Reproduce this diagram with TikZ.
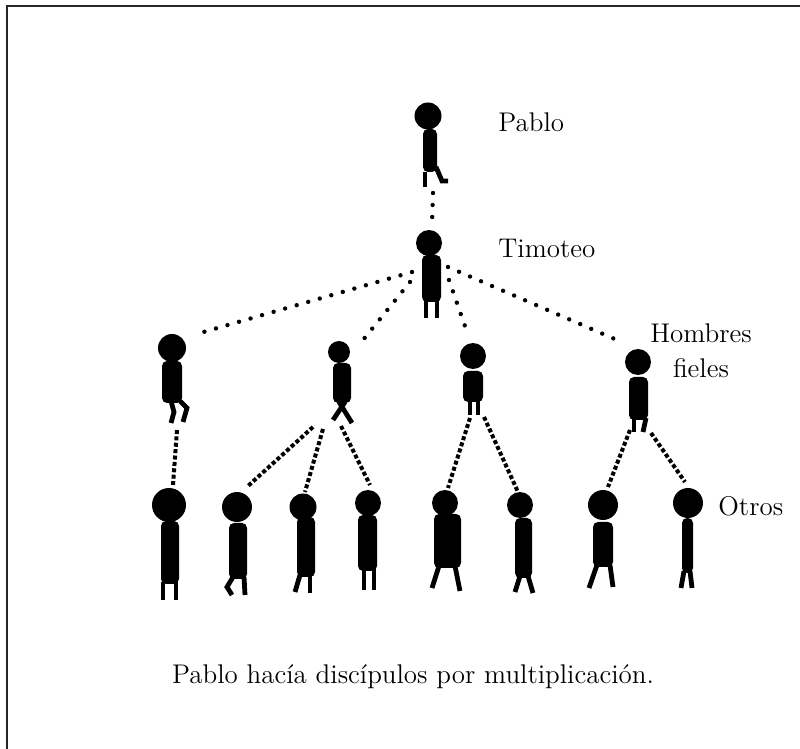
\documentclass[tikz,border=0pt]{standalone}
\begin{document}
\begin{tikzpicture}[x=0.5pt,y=-0.5pt,
    cabeza/.style={circle, fill=black, inner sep=0pt},
    cuerpo/.style={fill=black, rounded corners=2.5pt},
    pierna/.style={black, line width=2.4pt},
    puntos/.style={black, line width=2.2pt, line cap=round, dash pattern=on 0pt off 6pt},
    puntitos/.style={black, line width=2pt, dash pattern=on 2pt off 1.2pt},
    etiqueta/.style={font=\fontsize{13.5}{17.5}\selectfont, inner sep=0pt}]
        \useasboundingbox (0,0) rectangle (800,749);
        \draw[black!85, line width=1pt] (6.5,749) -- (6.5,6.5) -- (800,6.5);

        % Pablo
        \node[cabeza, minimum size=13.5pt] (pablo) at (428,116) {};
        \fill[cuerpo] (423,129) rectangle (437,172);
        \draw[pierna] (425,172) -- (425,187);
        \draw[pierna] (436,167) -- (442,181) -- (448,181);

        % Timoteo
        \node[cabeza, minimum size=13pt] (timoteo) at (429,243) {};
        \fill[cuerpo] (422,255) rectangle (441,302);
        \draw[pierna] (426,300) -- (426,318);
        \draw[pierna] (437,300) -- (437,318);

        % hombres fieles
        \node[cabeza, minimum size=14pt] (h1) at (172,348) {};
        \fill[cuerpo] (162,361) rectangle (182,403);
        \draw[pierna] (171,401) -- (174,412) -- (171,423);
        \draw[pierna] (180,401) -- (187,408) -- (183,422);

        \node[cabeza, minimum size=11pt] (h2) at (339,352) {};
        \fill[cuerpo] (333,363) rectangle (351,403);
        \draw[pierna] (345,402) -- (333,420);
        \draw[pierna] (339,402) -- (352,423);

        \node[cabeza, minimum size=13pt] (h3) at (473,356) {};
        \fill[cuerpo] (463,371) rectangle (483,402);
        \draw[pierna] (470,400) -- (470,415);
        \draw[pierna] (478,400) -- (478,415);

        \node[cabeza, minimum size=13pt] (h4) at (638,362) {};
        \fill[cuerpo] (629,377) rectangle (648,420);
        \draw[pierna] (634,418) -- (634,432);
        \draw[pierna] (646,418) -- (643,432);

        % otros
        \node[cabeza, minimum size=17pt] (o1) at (169,505) {};
        \fill[cuerpo] (161,521) rectangle (179,584);
        \draw[pierna] (163,582) -- (163,600);
        \draw[pierna] (176,582) -- (176,600);

        \node[cabeza, minimum size=15pt] (o2) at (237,507) {};
        \fill[cuerpo] (229,523) rectangle (247,579);
        \draw[pierna] (233,577) -- (227,587) -- (232,595);
        \draw[pierna] (244,577) -- (245,595);

        \node[cabeza, minimum size=13.5pt] (o3) at (303,507) {};
        \fill[cuerpo] (297,517) rectangle (315,577);
        \draw[pierna] (300,575) -- (295,592);
        \draw[pierna] (310,575) -- (310,593);

        \node[cabeza, minimum size=13pt] (o4) at (368,503) {};
        \fill[cuerpo] (358,515) rectangle (377,571);
        \draw[pierna] (364,569) -- (364,590);
        \draw[pierna] (374,569) -- (374,590);

        \node[cabeza, minimum size=13pt] (o5) at (445,503) {};
        \fill[cuerpo] (434,514) rectangle (461,568);
        \draw[pierna] (439,566) -- (432,588);
        \draw[pierna] (455,566) -- (460,591);

        \node[cabeza, minimum size=13pt] (o6) at (520,505) {};
        \fill[cuerpo] (515,518) rectangle (532,578);
        \draw[pierna] (520,576) -- (515,592);
        \draw[pierna] (528,576) -- (533,593);

        \node[cabeza, minimum size=15pt] (o7) at (603,505) {};
        \fill[cuerpo] (593,522) rectangle (613,567);
        \draw[pierna] (597,565) -- (589,588);
        \draw[pierna] (610,565) -- (613,587);

        \node[cabeza, minimum size=15pt] (o8) at (688,503) {};
        \fill[cuerpo] (682,518) rectangle (693,573);
        \draw[pierna] (684,571) -- (681,588);
        \draw[pierna] (690,571) -- (692,588);

        % puntos de union
        \coordinate (pablo-p) at (433,193);
        \coordinate (tim-c) at (432,224);
        \coordinate (tim-1) at (412,272);
        \coordinate (tim-2) at (410,282);
        \coordinate (tim-3) at (449,280);
        \coordinate (tim-4) at (448,267);
        \coordinate (h1-c) at (200,333);
        \coordinate (h2-c) at (363,340);
        \coordinate (h3-c) at (467,332);
        \coordinate (h4-c) at (617,340);
        \coordinate (h1-p) at (177,430);
        \coordinate (h2-p1) at (313,427);
        \coordinate (h2-p2) at (323,429);
        \coordinate (h2-p3) at (341,426);
        \coordinate (h3-p1) at (470,418);
        \coordinate (h3-p2) at (484,417);
        \coordinate (h4-p1) at (630,430);
        \coordinate (h4-p2) at (651,433);
        \coordinate (o1-c) at (173,485);
        \coordinate (o2-c) at (248,486);
        \coordinate (o3-c) at (305,492);
        \coordinate (o4-c) at (370,485);
        \coordinate (o5-c) at (448,488);
        \coordinate (o6-c) at (518,492);
        \coordinate (o7-c) at (608,487);
        \coordinate (o8-c) at (685,482);

        \draw[puntos] (pablo-p) -- (tim-c);
        \draw[puntos] (tim-1) -- (h1-c);
        \draw[puntos] (tim-2) -- (h2-c);
        \draw[puntos] (tim-3) -- (h3-c);
        \draw[puntos] (tim-4) -- (h4-c);

        \draw[puntitos] (h1-p) -- (o1-c);
        \draw[puntitos] (h2-p1) -- (o2-c);
        \draw[puntitos] (h2-p2) -- (o3-c);
        \draw[puntitos] (h2-p3) -- (o4-c);
        \draw[puntitos] (h3-p1) -- (o5-c);
        \draw[puntitos] (h3-p2) -- (o6-c);
        \draw[puntitos] (h4-p1) -- (o7-c);
        \draw[puntitos] (h4-p2) -- (o8-c);

        % textos
        \node[etiqueta, anchor=base west] (lpablo) at (498,132) {Pablo};
        \node[etiqueta, anchor=base west] (ltimoteo) at (498,258) {Timoteo};
        \node[etiqueta, anchor=north, align=center] (lfieles) at (701,323) {Hombres\\fieles};
        \node[etiqueta, anchor=base west] (lotros) at (718,516) {Otros};
        \node[etiqueta, anchor=base] (leyenda) at (413,684) {Pablo hacía discípulos por multiplicación.};
    \end{tikzpicture}
\end{document}
